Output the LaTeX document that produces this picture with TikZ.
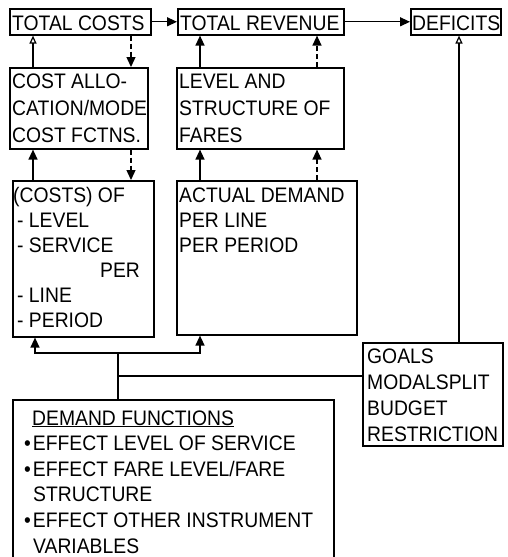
\documentclass[tikz,border=0pt]{standalone}
\usepackage{fontspec}
\setmainfont{Liberation Sans}[FakeStretch=0.92]
\usetikzlibrary{arrows.meta}
\begin{document}
\begin{tikzpicture}[x=1pt,y=-1pt,
 box/.style={draw, line width=1.6pt, inner sep=0pt, anchor=north west},
 txt/.style={inner sep=0pt, anchor=base west, align=left, font=\fontsize{21}{25.5}\selectfont},
 conn/.style={line width=1.3pt},
 dsh/.style={conn, dash pattern=on 5pt off 3pt},
 fa/.style={-{Triangle[length=10pt,width=9pt]}},
 oa/.style={-{Triangle[open,length=8pt,width=7pt,line width=1.2pt]}}]
\useasboundingbox (0,0) rectangle (507,557);
% boxes
\node[box, minimum width=141pt, minimum height=26pt] (tc) at (9,8) {};
\node[box, minimum width=166pt, minimum height=26pt] (tr) at (177,8) {};
\node[box, minimum width=90pt, minimum height=26pt] (def) at (410,8) {};
\node[box, minimum width=138pt, minimum height=81pt] (ca) at (9,67) {};
\node[box, minimum width=167pt, minimum height=81pt] (la) at (176,67) {};
\node[box, minimum width=141pt, minimum height=156pt] (co) at (12,180) {};
\node[box, minimum width=180pt, minimum height=154pt] (ad) at (176,180) {};
\node[box, minimum width=140pt, minimum height=103pt] (gl) at (362,342) {};
\node[box, minimum width=321pt, minimum height=175pt] (df) at (12,399) {};
% texts (anchored at the baseline of their last line)
\node[txt] (tct) at (12,30) {TOTAL COSTS};
\node[txt] (trt) at (180,30) {TOTAL REVENUE};
\node[txt] (deft) at (412,30) {DEFICITS};
\node[txt, font=\fontsize{21}{27}\selectfont] (cat) at (12,142) {COST ALLO-\\CATION/MODE\\COST FCTNS.};
\node[txt, font=\fontsize{21}{27}\selectfont] (lat) at (179,142) {LEVEL AND\\STRUCTURE OF\\FARES};
\node[txt, font=\fontsize{21}{25}\selectfont] (cot) at (13,327) {(COSTS) OF\\\hspace*{4pt}- LEVEL\\\hspace*{4pt}- SERVICE\\\hspace*{87pt}PER\\\hspace*{4pt}- LINE\\\hspace*{4pt}- PERIOD};
\node[txt, font=\fontsize{21}{25}\selectfont] (adt) at (179,252) {ACTUAL DEMAND\\PER LINE\\PER PERIOD};
\node[txt, font=\fontsize{21}{26}\selectfont] (glt) at (367,441) {GOALS\\MODALSPLIT\\BUDGET\\RESTRICTION};
\node[txt, font=\fontsize{21}{25.6}\selectfont] (dft) at (24,553) {\hspace*{8pt}\underline{DEMAND FUNCTIONS}\\%
•\hspace{2pt}EFFECT LEVEL OF SERVICE\\%
•\hspace{2pt}EFFECT FARE LEVEL/FARE\\%
\hspace*{9pt}STRUCTURE\\%
•\hspace{2pt}EFFECT OTHER INSTRUMENT\\%
\hspace*{9pt}VARIABLES};
% column coordinates
\coordinate (xa) at (33,0);
\coordinate (xb) at (131,0);
\coordinate (xc) at (200,0);
\coordinate (xd) at (317,0);
\coordinate (xe) at (459,0);
\coordinate (xf) at (35,0);
\coordinate (j) at (118,353);
\coordinate (k) at (118,376);
% connectors
\draw[conn,fa] (tc.east) -- (tr.west);
\draw[conn,fa] (tr.east) -- (def.west);
\draw[conn,oa] (xa |- ca.north) -- (xa |- tc.south);
\draw[dsh,fa] (xb |- tc.south) -- (xb |- ca.north);
\draw[conn,fa] (xc |- la.north) -- (xc |- tr.south);
\draw[dsh,fa] (xd |- la.north) -- (xd |- tr.south);
\draw[conn,fa] (xa |- co.north) -- (xa |- ca.south);
\draw[dsh,fa] (xb |- ca.south) -- (xb |- co.north);
\draw[conn,fa] (xc |- ad.north) -- (xc |- la.south);
\draw[dsh,fa] (xd |- ad.north) -- (xd |- la.south);
\draw[conn] (j |- df.north) -- (j);
\draw[conn,fa] (j) -| (xf |- co.south);
\draw[conn,fa] (j) -| (xc |- ad.south);
\draw[conn] (k) -- (k -| gl.west);
\draw[conn,oa] (xe |- gl.north) -- (xe |- def.south);
\end{tikzpicture}
\end{document}
